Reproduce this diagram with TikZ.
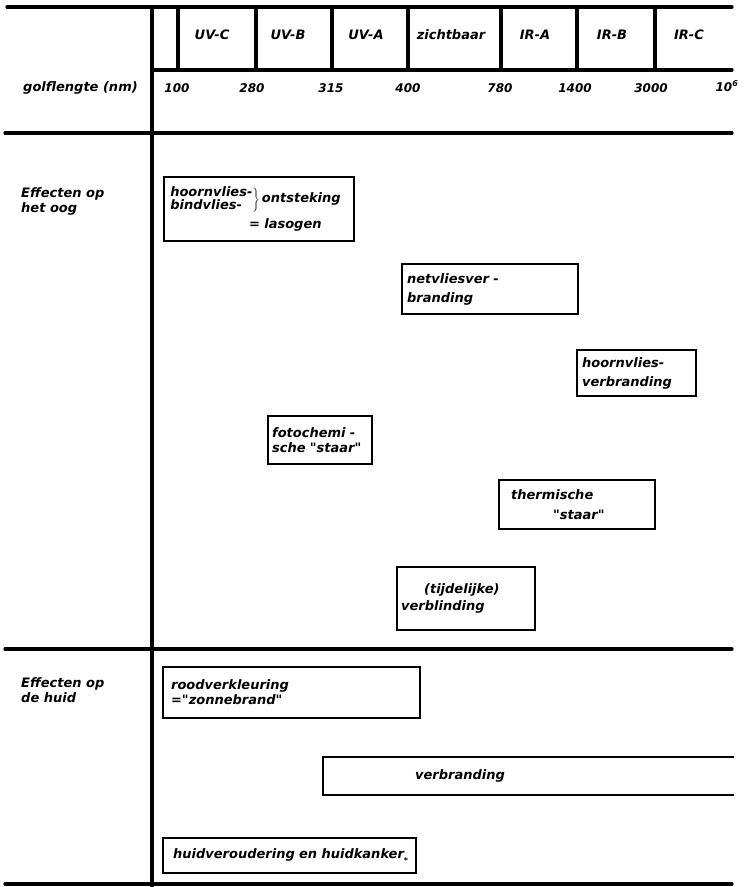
\documentclass[tikz,border=0pt]{standalone}
\usepackage{fontspec}
\setmainfont{DejaVu Sans}
\usetikzlibrary{positioning}
\newcommand{\effont}{\fontsize{13}{15}\selectfont\bfseries\itshape}
\newcommand{\numfont}{\fontsize{12}{14}\selectfont\bfseries\itshape}
\newcommand{\qq}{\textquotedbl}
\tikzset{
  tabline/.style={line width=3.2pt,line cap=round},
  boxline/.style={line width=2.2pt},
  lbl/.style={font=\effont,inner sep=0pt,align=left},
  band/.style={font=\effont,inner sep=0pt},
  num/.style={font=\numfont,inner sep=0pt},
  effbox/.style={rectangle,draw,line width=2.2pt,font=\effont,align=left,
                 anchor=north west,inner xsep=5pt,inner ysep=2pt},
}

\begin{document}
\begin{tikzpicture}[x=1pt,y=-1pt]
  \useasboundingbox (0,0) rectangle (745,887);

  % table frame
  \draw[tabline] (7,7) -- (732,7);
  \draw[tabline] (152,70) -- (732,70);
  \draw[tabline] (5,133) -- (732,133);
  \draw[tabline] (5,649) -- (732,649);
  \draw[tabline] (5,884) -- (732,884);
  \draw[tabline] (152,7) -- (152,886);

  % spectrum bands
  \draw[tabline] (178,7) -- (178,70);
  \draw[tabline] (256,7) -- (256,70);
  \draw[tabline] (332,7) -- (332,70);
  \draw[tabline] (408,7) -- (408,70);
  \draw[tabline] (501,7) -- (501,70);
  \draw[tabline] (577,7) -- (577,70);
  \draw[tabline] (655,7) -- (655,70);

  \node[band] (uvc)  at (212,35) {UV-C};
  \node[band] (uvb)  at (288,35) {UV-B};
  \node[band] (uva)  at (366,35) {UV-A};
  \node[band] (vis)  at (451,35) {zichtbaar};
  \node[band] (ira)  at (535,35) {IR-A};
  \node[band] (irb)  at (612,35) {IR-B};
  \node[band] (irc)  at (689,35) {IR-C};

  % wavelengths
  \node[lbl,anchor=west] (golf) at (23,88) {golflengte (nm)};
  \node[num] (n100)  at (177,88) {100};
  \node[num] (n280)  at (252,88) {280};
  \node[num] (n315)  at (331,88) {315};
  \node[num] (n400)  at (408,88) {400};
  \node[num] (n780)  at (500,88) {780};
  \node[num] (n1400) at (575,88) {1400};
  \node[num] (n3000) at (651,88) {3000};
  \node[num] (nmax)  at (727,86) {10\textsuperscript{6}};

  % eye
  \node[lbl,anchor=west] (oog) at (21,201) {Effecten op\\het oog};

  \node[effbox,text width=180pt,minimum height=64pt] (lasogen) at (163,176)
    {$\left.\def\arraystretch{0.75}\begin{tabular}{@{}l@{}}hoornvlies-\\bindvlies-\end{tabular}\right\}$\hspace{2pt}ontsteking\\[5pt]
     \hspace*{80pt}= lasogen};
  \node[effbox,text width=166pt,minimum height=50pt] (netvlies) at (401,263)
    {netvliesver -\\[4pt]branding};
  \node[effbox,text width=109pt,minimum height=46pt] (hoornvl) at (576,349)
    {hoornvlies-\\[4pt]verbranding};
  \node[effbox,text width=96pt,minimum height=48pt,inner xsep=4pt] (fotochem) at (267,415)
    {fotochemi -\\sche \qq staar\qq};
  \node[effbox,text width=146pt,minimum height=49pt] (thermisch) at (498,479)
    {\hspace*{7pt}thermische\\[5pt]\hspace*{49pt}\qq staar\qq};
  \node[effbox,text width=130pt,minimum height=63pt,inner xsep=4pt] (verblind) at (396,566)
    {\hspace*{23pt}(tijdelijke)\\[2pt]verblinding};

  % skin
  \node[lbl,anchor=west] (huid) at (21,690) {Effecten op\\de huid};

  \node[effbox,text width=247pt,minimum height=51pt] (rood) at (162,666)
    {\hspace*{3pt}roodverkleuring\\\hspace*{3pt}=\qq zonnebrand\qq};
  \node[effbox,draw=none,text width=399pt,minimum height=36pt] (verbr) at (323,757)
    {\hspace*{86pt}verbranding};
  \draw[boxline] (verbr.north east) -- (verbr.north west)
    -- (verbr.south west) -- (verbr.south east);
  \node[effbox,text width=243pt,minimum height=35pt] (kanker) at (162,837)
    {\hspace*{5pt}huidveroudering en huidkanker\raisebox{-5pt}{\fontsize{8}{8}\selectfont *}};
\end{tikzpicture}
\end{document}
